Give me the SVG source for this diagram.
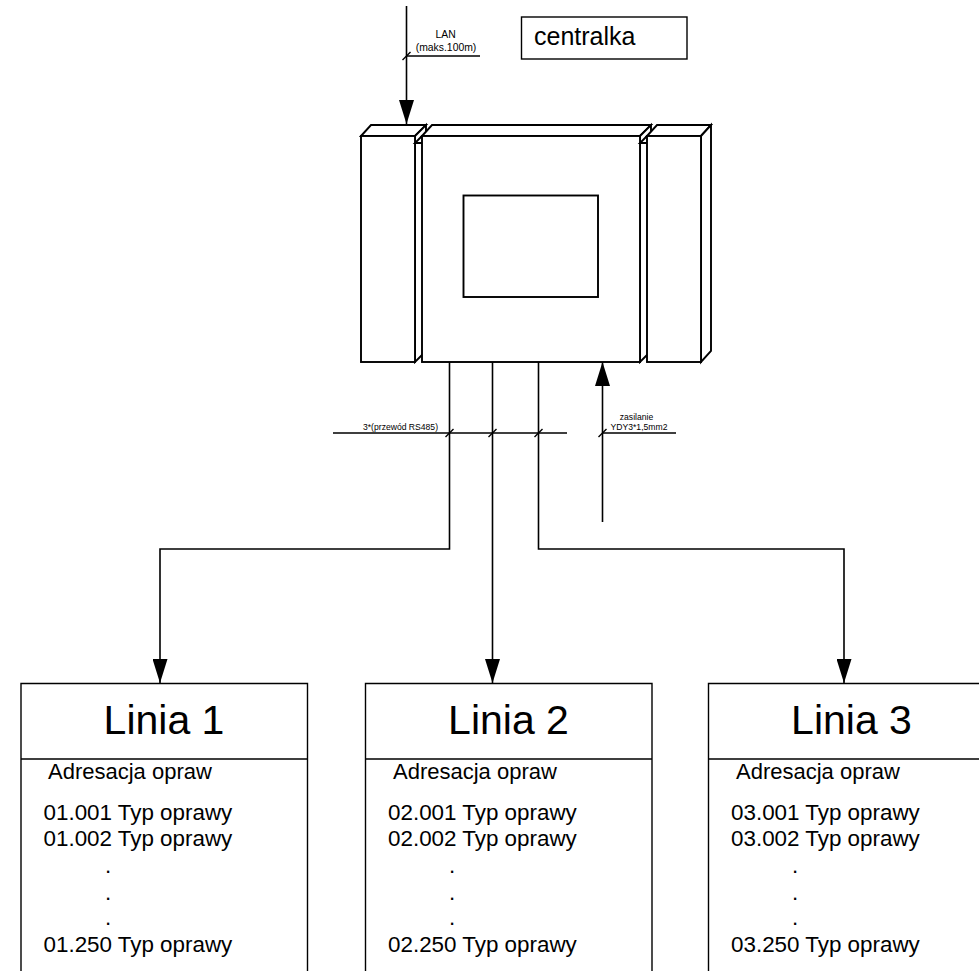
<svg xmlns="http://www.w3.org/2000/svg" width="979" height="971" viewBox="0 0 979 971">
<style>
text{font-family:"Liberation Sans",Arial,sans-serif;fill:#000}
.s{fill:none;stroke:#000;stroke-width:1.4}
.h{fill:none;stroke:#000;stroke-width:1.6}
.d{fill:#fff;stroke:#000;stroke-width:1.9;stroke-linejoin:miter}
.t{font-size:41px;text-anchor:middle}
.a{font-size:22px}
.b{font-size:22.400px}
.m{font-size:8.600px;text-anchor:middle}
.l{font-size:10.400px;text-anchor:middle}
</style>
<defs>
<marker id="arr" markerUnits="userSpaceOnUse" markerWidth="24" markerHeight="15" refX="24" refY="7.500" orient="auto"><path d="M0 0L24 7.500L0 15Z" fill="#000"/></marker>
</defs>
<rect width="979" height="971" fill="#fff"/>
<g id="centralka-label"><rect x="521.500" y="17" width="165.500" height="42" class="s" fill="#fff"/><text x="534" y="44.500" font-size="25">centralka</text></g>
<g id="device">
<path class="d" d="M361 136L371 125H426L415 136Z"/>
<path class="d" d="M415 136L426 125V351L415 362Z"/>
<path class="d" d="M422 136L432 125H651L640 136Z"/>
<path class="d" d="M640 136L651 125V351L640 362Z"/>
<path class="d" d="M647 136L657 125H711L701 136Z"/>
<path class="d" d="M701 136L711 125V351L701 362Z"/>
<rect class="d" x="361" y="136" width="54" height="226"/>
<rect class="d" x="422" y="136" width="218" height="226"/>
<rect class="d" x="647" y="136" width="54" height="226"/>
<rect class="d" x="463.500" y="195.500" width="134.500" height="101.500"/>
<path class="d" d="M415 143H422L415 143L422 136M640 143H647L640 143L647 136"/>
</g>
<g id="connectors" class="s">
<path class="h" d="M406.500 6V124" marker-end="url(#arr)"/>
<path class="h" d="M449.500 362V549H160V683" marker-end="url(#arr)"/>
<path class="h" d="M492.500 362V683" marker-end="url(#arr)"/>
<path class="h" d="M538.500 362V549H844V683" marker-end="url(#arr)"/>
<path class="h" d="M602.500 522V362" marker-end="url(#arr)"/>
<path d="M406.500 56H480M333 433H567M602.500 433H676"/>
<path d="M402.500 60L410.500 52M445.500 437L453.500 429M488.500 437L496.500 429M534.500 437L542.500 429M598.500 437L606.500 429"/>
</g>
<g id="labels">
<text class="l" x="445.700" y="38">LAN</text>
<text class="l" x="446" y="50.500">(maks.100m)</text>
<text class="m" x="400.500" y="430">3*(przewód RS485)</text>
<text class="m" x="636.500" y="420">zasilanie</text>
<text class="m" x="639" y="430">YDY3*1,5mm2</text>
</g>
<g id="linia-1">
<path class="s" d="M21 971V683.500H307.500V971M21 759H307.500"/>
<text class="t" x="164" y="733.500">Linia 1</text>
<text class="a" x="48" y="779">Adresacja opraw</text>
<text class="b" x="43.500" y="820">01.001 Typ oprawy</text>
<text class="b" x="43.500" y="846">01.002 Typ oprawy</text>
<text class="b" x="105" y="873">.</text><text class="b" x="105" y="900">.</text><text class="b" x="105" y="925">.</text>
<text class="b" x="43.500" y="952">01.250 Typ oprawy</text>
</g>
<g id="linia-2">
<path class="s" d="M365.500 971V683.500H652V971M365.500 759H652"/>
<text class="t" x="508.500" y="733.500">Linia 2</text>
<text class="a" x="393" y="779">Adresacja opraw</text>
<text class="b" x="388" y="820">02.001 Typ oprawy</text>
<text class="b" x="388" y="846">02.002 Typ oprawy</text>
<text class="b" x="449" y="873">.</text><text class="b" x="449" y="900">.</text><text class="b" x="449" y="925">.</text>
<text class="b" x="388" y="952">02.250 Typ oprawy</text>
</g>
<g id="linia-3">
<path class="s" d="M708.500 971V683.500H979M708.500 759H979"/>
<text class="t" x="851.500" y="733.500">Linia 3</text>
<text class="a" x="736" y="779">Adresacja opraw</text>
<text class="b" x="731" y="820">03.001 Typ oprawy</text>
<text class="b" x="731" y="846">03.002 Typ oprawy</text>
<text class="b" x="792" y="873">.</text><text class="b" x="792" y="900">.</text><text class="b" x="792" y="925">.</text>
<text class="b" x="731" y="952">03.250 Typ oprawy</text>
</g>
</svg>
